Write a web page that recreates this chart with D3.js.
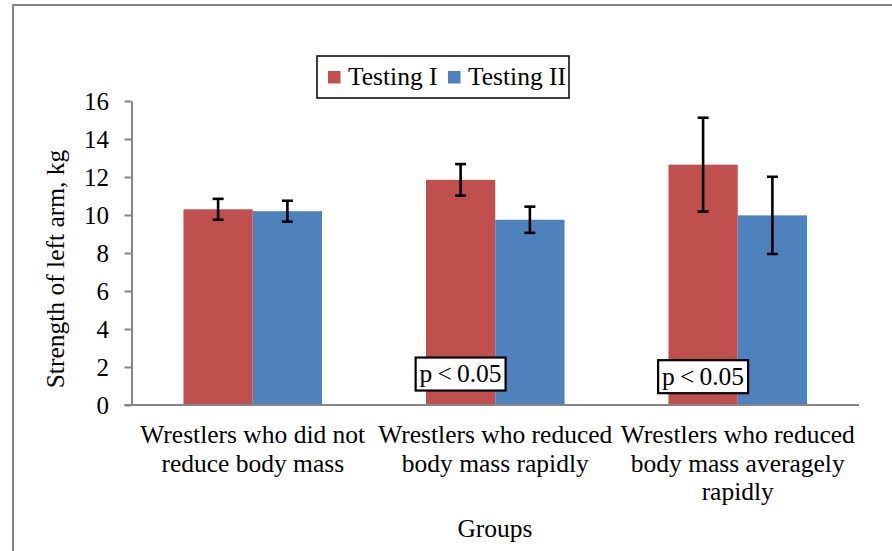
<!DOCTYPE html>
<html>
<head>
<meta charset="utf-8">
<script src="https://cdn.jsdelivr.net/npm/d3@7/dist/d3.min.js"></script>
<style>
  body { margin: 0; background: #fff; }
  svg { display: block; font-family: "Liberation Serif", "Times New Roman", serif; }
  .axis path, .axis line { stroke: #868686; stroke-width: 2; }
  .axis text { font-size: 25px; fill: #000; font-family: "Liberation Serif", serif; }
</style>
</head>
<body>
<svg id="chart" width="892" height="551"></svg>
<script>
// chart data
const categories = ["g1", "g2", "g3"];
const categoryLabels = [
    ["Wrestlers who did not", "reduce body mass"],
    ["Wrestlers who reduced", "body mass rapidly"],
    ["Wrestlers who reduced", "body mass averagely", "rapidly"]
];
const seriesNames = ["Testing I", "Testing II"];
const testingI = [10.3, 11.85, 12.65];
const testingII = [10.2, 9.75, 9.98];
const errorI = [0.55, 0.83, 2.47];
const errorII = [0.55, 0.69, 2.03];
const yTicks = [0, 2, 4, 6, 8, 10, 12, 14, 16];
// significance notes: [category, value at box centre]
const notes = [["g2", 1.63], ["g3", 1.49]];

const colors = { "Testing I": "#C0504D", "Testing II": "#4F81BD" };

const svg = d3.select("#chart");

// outer chart frame (cut off at right / bottom like the source)
svg.append("rect")
    .attr("x", 13).attr("y", 5)
    .attr("width", 960).attr("height", 620)
    .attr("fill", "none")
    .attr("stroke", "#868686")
    .attr("stroke-width", 2);

const plot = { left: 131.5, right: 859, top: 101, bottom: 405 };

const x0 = d3.scaleBand()
    .domain(categories)
    .range([plot.left, plot.right])
    .paddingInner(0).paddingOuter(0);

const x1 = d3.scaleBand()
    .domain(seriesNames)
    .range([0, x0.bandwidth()])
    .paddingInner(0).paddingOuter(0.75);

const y = d3.scaleLinear()
    .domain([0, 16])
    .range([plot.bottom, plot.top]);

const rows = categories.map((c, i) => ({
    cat: c,
    values: [
        { key: "Testing I", v: testingI[i], e: errorI[i] },
        { key: "Testing II", v: testingII[i], e: errorII[i] }
    ]
}));

// bars
const groups = svg.selectAll("g.group")
    .data(rows)
    .enter().append("g")
    .attr("class", "group")
    .attr("transform", d => `translate(${x0(d.cat)},0)`);

groups.selectAll("rect")
    .data(d => d.values)
    .enter().append("rect")
    .attr("x", d => x1(d.key))
    .attr("y", d => y(d.v))
    .attr("width", x1.bandwidth())
    .attr("height", d => y(0) - y(d.v))
    .attr("fill", d => colors[d.key]);

// error bars
const errs = groups.selectAll("g.err")
    .data(d => d.values)
    .enter().append("g")
    .attr("class", "err")
    .attr("stroke", "#000")
    .attr("stroke-width", 2.6);

errs.append("line")
    .attr("x1", d => x1(d.key) + x1.bandwidth() / 2)
    .attr("x2", d => x1(d.key) + x1.bandwidth() / 2)
    .attr("y1", d => y(d.v + d.e))
    .attr("y2", d => y(d.v - d.e));

[1, -1].forEach(s => {
    errs.append("line")
        .attr("x1", d => x1(d.key) + x1.bandwidth() / 2 - 5.5)
        .attr("x2", d => x1(d.key) + x1.bandwidth() / 2 + 5.5)
        .attr("y1", d => y(d.v + s * d.e))
        .attr("y2", d => y(d.v + s * d.e));
});

// y axis
const yAxis = d3.axisLeft(y)
    .tickValues(yTicks)
    .tickSize(7)
    .tickSizeOuter(0)
    .tickPadding(15.5)
    .tickFormat(d3.format("d"));

svg.append("g")
    .attr("class", "axis")
    .attr("transform", `translate(${plot.left},0)`)
    .call(yAxis);

// x axis line
svg.append("line")
    .attr("x1", plot.left - 7).attr("x2", plot.right)
    .attr("y1", y(0)).attr("y2", y(0))
    .attr("stroke", "#868686").attr("stroke-width", 2);

// category labels
const catLabels = svg.selectAll("text.cat")
    .data(categories)
    .enter().append("text")
    .attr("class", "cat")
    .attr("text-anchor", "middle")
    .attr("font-size", 25.5)
    .attr("y", 443);

catLabels.selectAll("tspan")
    .data((d, i) => categoryLabels[i].map(t => ({ t, c: d })))
    .enter().append("tspan")
    .attr("x", d => x0(d.c) + x0.bandwidth() / 2)
    .attr("dy", (d, i) => i === 0 ? 0 : 28.5)
    .text(d => d.t);

// axis titles
svg.append("text")
    .attr("x", 495).attr("y", 537)
    .attr("text-anchor", "middle")
    .attr("font-size", 25.5)
    .text("Groups");

svg.append("text")
    .attr("transform", "translate(64,269) rotate(-90)")
    .attr("text-anchor", "middle")
    .attr("font-size", 25.5)
    .text("Strength of left arm, kg");

// significance boxes over Testing I bars
notes.forEach(([c, v]) => {
    const cx = x0(c) + x1("Testing I") + x1.bandwidth() / 2;
    const g = svg.append("g").attr("transform", `translate(${cx},${y(v)})`);
    const t = g.append("text")
        .attr("text-anchor", "middle")
        .attr("dy", "0.33em")
        .attr("font-size", 25.5)
        .text("p\u2009<\u20090.05");
    const bb = t.node().getBBox();
    g.insert("rect", "text")
        .attr("x", bb.x - 4).attr("y", -16.5)
        .attr("width", bb.width + 8).attr("height", 33)
        .attr("fill", "#fff")
        .attr("stroke", "#000")
        .attr("stroke-width", 2.2);
});

// legend
const legend = svg.append("g").attr("transform", "translate(317,56)");
legend.append("rect")
    .attr("width", 252).attr("height", 42)
    .attr("fill", "#fff")
    .attr("stroke", "#000")
    .attr("stroke-width", 1.5);

const legendX = [11, 131];
seriesNames.forEach((s, i) => {
    legend.append("rect")
        .attr("x", legendX[i]).attr("y", 15)
        .attr("width", 12.5).attr("height", 12.5)
        .attr("fill", colors[s]);
    legend.append("text")
        .attr("x", legendX[i] + 20).attr("y", 29)
        .attr("font-size", 25.5)
        .text(s);
});
</script>
</body>
</html>
